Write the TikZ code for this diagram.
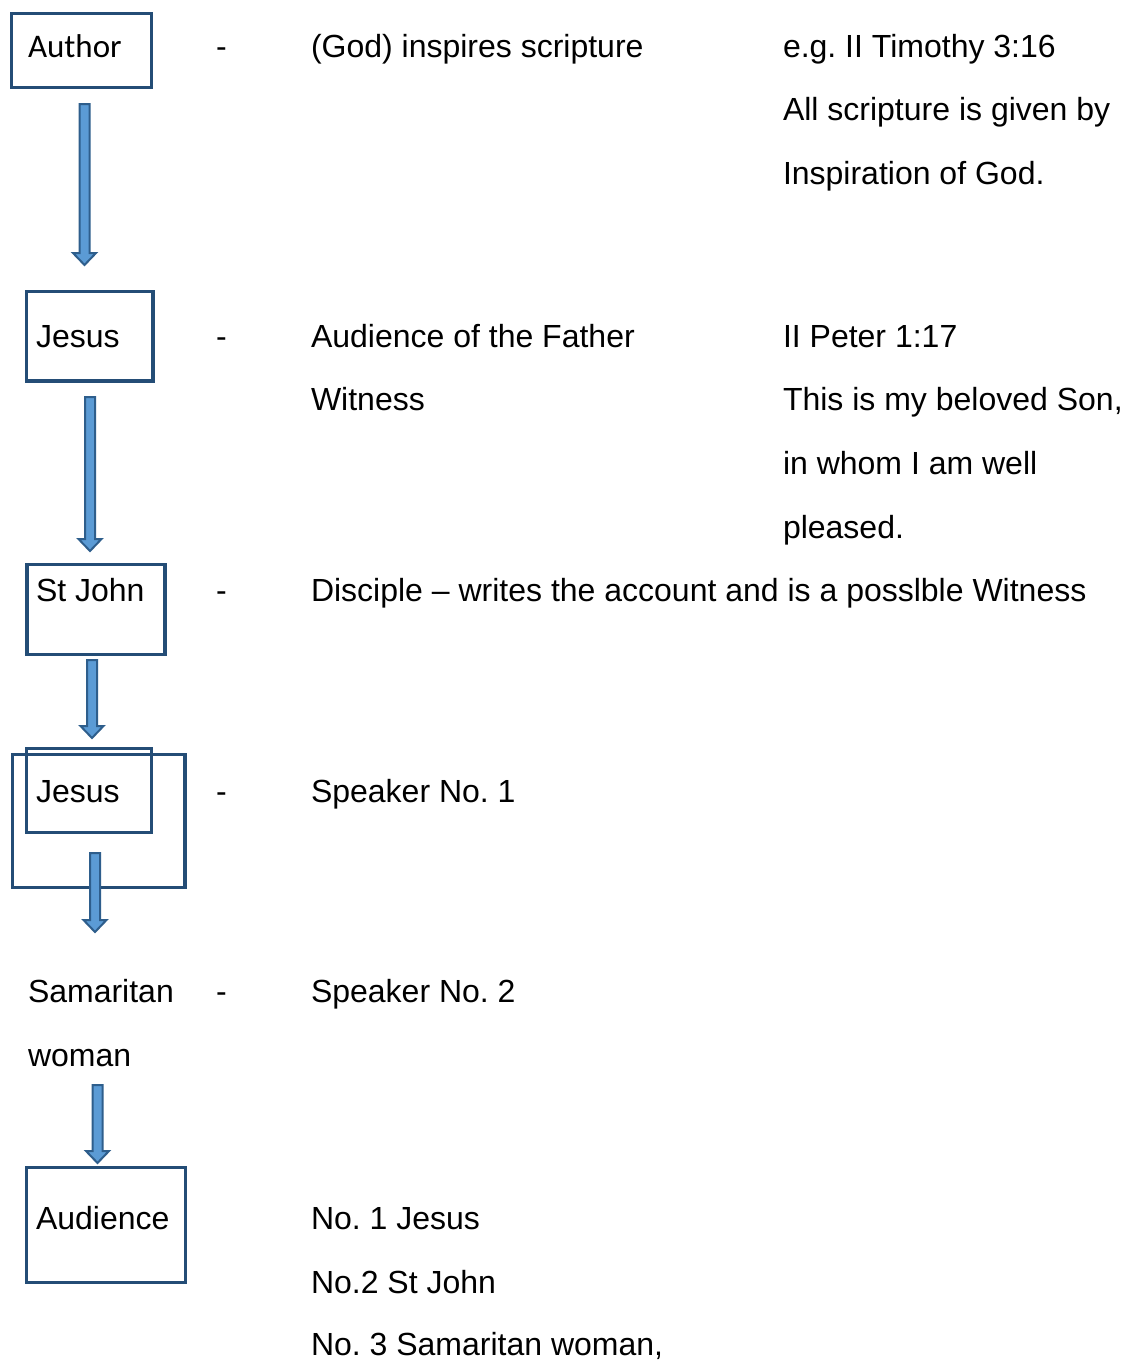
\documentclass[tikz,border=0pt]{standalone}
\usepackage{fontspec}
\setmainfont{Liberation Sans}
\newfontfamily\calibfont{Carlito}
\usetikzlibrary{calc}
\frenchspacing
\definecolor{boxline}{RGB}{36,77,118}
\definecolor{arrfill}{RGB}{91,155,213}
\definecolor{arrline}{RGB}{46,94,140}
\tikzset{
  box/.style={draw=boxline, line width=3.4pt, rectangle, inner sep=0pt, outer sep=0pt, anchor=north west},
  txt/.style={anchor=base west, inner sep=0pt, outer sep=0pt, font=\fontsize{32}{38}\selectfont},
  blkarrow/.style={draw=arrline, fill=arrfill, line width=2pt, line join=miter}
}
\newcommand\blockarrowdraw[2]{%
  \draw[blkarrow] let \p1=(#1), \p2=(#2) in
    (\x1-5pt,\y1) -- (\x1+5pt,\y1) -- (\x1+5pt,\y2+12pt) -- (\x1+11.5pt,\y2+12pt)
    -- (\x1,\y2) -- (\x1-11.5pt,\y2+12pt) -- (\x1-5pt,\y2+12pt) -- cycle;}
\begin{document}
\begin{tikzpicture}[x=1pt,y=-1pt]
\useasboundingbox[fill=white] (0,0) rectangle (1126,1360);
% boxes
\node[box, minimum width=140pt, minimum height=74pt] (authorbox) at (11.5,13.5) {};
\node[box, minimum width=126.5pt, minimum height=89.5pt] (jesusbox) at (26.5,291.5) {};
\node[box, minimum width=138pt, minimum height=90pt] (johnbox) at (27,564.5) {};
\node[box, minimum width=172.5pt, minimum height=133pt] (jesusbig) at (12.5,754.5) {};
\node[box, minimum width=125pt, minimum height=84pt] (jesusbox2) at (26.5,748.5) {};
\node[box, minimum width=159pt, minimum height=115pt] (audbox) at (26.5,1167.5) {};
% arrows
\coordinate (a1s) at (84.5,104); \coordinate (a1e) at (84.5,265);
\coordinate (a2s) at (90,397);   \coordinate (a2e) at (90,551);
\coordinate (a3s) at (92,660);   \coordinate (a3e) at (92,738);
\coordinate (a4s) at (95,853);   \coordinate (a4e) at (95,932);
\coordinate (a5s) at (97.5,1085); \coordinate (a5e) at (97.5,1163);
\blockarrowdraw{a1s}{a1e}
\blockarrowdraw{a2s}{a2e}
\blockarrowdraw{a3s}{a3e}
\blockarrowdraw{a4s}{a4e}
\blockarrowdraw{a5s}{a5e}
% column 1 texts
\node[txt, font=\calibfont\fontsize{33}{38}\selectfont] (t1) at (28,57) {Author};
\node[txt] (t2) at (36,347.5) {Jesus};
\node[txt] (t3) at (36,601.5) {St John};
\node[txt] (t4) at (36,802.5) {Jesus};
\node[txt] (t5) at (28,1002.5) {Samaritan};
\node[txt] (t6) at (28,1066) {woman};
\node[txt] (t7) at (36,1229.5) {Audience};
% dashes
\node[txt] (d1) at (216,57) {-};
\node[txt] (d2) at (216,347.5) {-};
\node[txt] (d3) at (216,601.5) {-};
\node[txt] (d4) at (216,802.5) {-};
\node[txt] (d5) at (216,1002.5) {-};
% column 2
\node[txt] (c1) at (311,57) {(God) inspires scripture};
\node[txt] (c2) at (311,347.5) {Audience of the Father};
\node[txt] (c3) at (311,410.5) {Witness};
\node[txt] (c4) at (311,601.5) {Disciple – writes the account and is a posslble Witness};
\node[txt] (c5) at (311,802.5) {Speaker No. 1};
\node[txt] (c6) at (311,1002.5) {Speaker No. 2};
\node[txt] (c7) at (311,1229.5) {No. 1 Jesus};
\node[txt] (c8) at (311,1293) {No.2 St John};
\node[txt] (c9) at (311,1355.5) {No. 3 Samaritan woman,};
% column 3
\node[txt] (e1) at (783,57) {e.g. II Timothy 3:16};
\node[txt] (e2) at (783,120.5) {All scripture is given by};
\node[txt] (e3) at (783,184) {Inspiration of God.};
\node[txt] (e4) at (783,347.5) {II Peter 1:17};
\node[txt] (e5) at (783,410.5) {This is my beloved Son,};
\node[txt] (e6) at (783,474) {in whom I am well};
\node[txt] (e7) at (783,538) {pleased.};
\end{tikzpicture}
\end{document}
